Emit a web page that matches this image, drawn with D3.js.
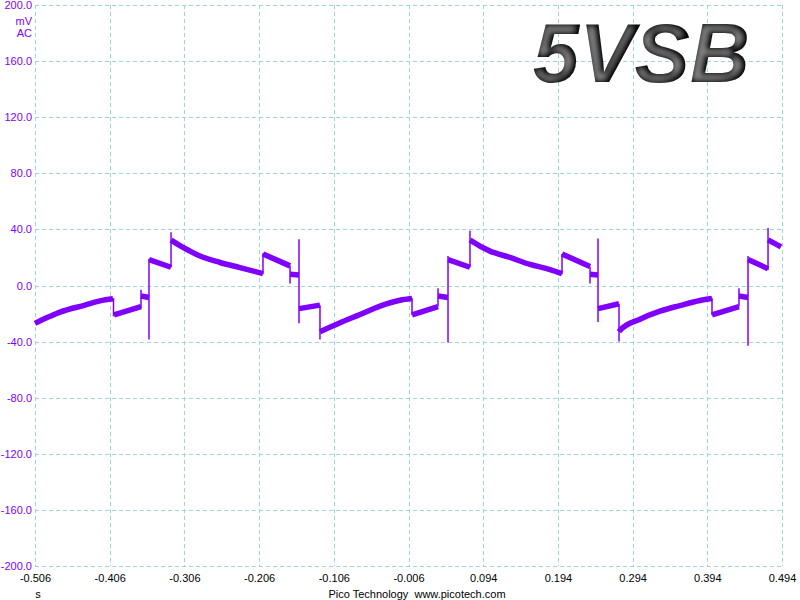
<!DOCTYPE html>
<html>
<head>
<meta charset="utf-8">
<script src="https://cdn.jsdelivr.net/npm/d3@7"></script>
<style>
  html, body { margin: 0; padding: 0; background: #fff; }
  svg { display: block; }
</style>
</head>
<body>
<svg id="chart" width="800" height="600"></svg>
<script>
// ---- data ----
const xTicks = [-0.506, -0.406, -0.306, -0.206, -0.106, -0.006, 0.094, 0.194, 0.294, 0.394, 0.494];
const xTickLabels = ["-0.506", "-0.406", "-0.306", "-0.206", "-0.106", "-0.006", "0.094", "0.194", "0.294", "0.394", "0.494"];
const yTicks = [200, 160, 120, 80, 40, 0, -40, -80, -120, -160, -200];
const yTickLabels = ["200.0", "160.0", "120.0", "80.0", "40.0", "0.0", "-40.0", "-80.0", "-120.0", "-160.0", "-200.0"];
const titleText = "5VSB";
const unitLabels = ["mV", "AC"];
const xUnit = "s";
const footer = "Pico Technology  www.picotech.com";

// noisy trace segments: [time (s), mV]
const traceSegments = [
  [[-0.506,-27],[-0.4859,-22],[-0.4725,-19],[-0.4391,-14],[-0.4190,-11],[-0.4016,-9.5]],
  [[-0.4002,-21],[-0.3641,-15]],
  [[-0.3641,-7.5],[-0.3534,-8.5]],
  [[-0.3534,18.5],[-0.3239,13]],
  [[-0.3239,32.5],[-0.3213,31.5],[-0.2985,24.5],[-0.2851,21],[-0.2583,16.4],[-0.2316,12.8],[-0.2008,8.5]],
  [[-0.2008,22.5],[-0.1646,14]],
  [[-0.1646,8],[-0.1526,7.5]],
  [[-0.1526,-16.5],[-0.1245,-14]],
  [[-0.1245,-33],[-0.0977,-26.6],[-0.0709,-20.7],[-0.0442,-14.7],[-0.0174,-10.5],[-0.0013,-9.3]],
  [[-0.0013,-21],[0.0335,-15]],
  [[0.0335,-7.5],[0.0469,-8.5]],
  [[0.0469,18.5],[0.0763,13]],
  [[0.0763,32.5],[0.0790,31.5],[0.1031,24.5],[0.1299,20],[0.1567,15],[0.1834,11.4],[0.1995,8.5]],
  [[0.1995,22.5],[0.2370,13.5]],
  [[0.2370,8],[0.2477,7.5]],
  [[0.2477,-16.5],[0.2758,-13]],
  [[0.2758,-33],[0.2771,-32],[0.3039,-24],[0.3307,-18.3],[0.3575,-14.3],[0.3842,-10.7],[0.4003,-9.3]],
  [[0.4003,-21],[0.4364,-15]],
  [[0.4364,-7.5],[0.4485,-8.5]],
  [[0.4485,18.5],[0.4753,12]],
  [[0.4753,32.5],[0.4927,27.5]]
];
// transition spikes: [time (s), low mV, high mV]
const spikes = [
  [-0.4009,-22,-9], [-0.3641,-16,-3], [-0.3534,-38.5,19], [-0.3239,13,38],
  [-0.2008,8,23], [-0.1646,1.5,14], [-0.1526,-27,33], [-0.1245,-38.5,-14],
  [-0.0013,-21,-9], [0.0335,-15,-2], [0.0469,-40.6,21], [0.0763,13,39],
  [0.1995,8,22.5], [0.2370,1.5,13.5], [0.2477,-26,33.5], [0.2758,-40,-13],
  [0.4003,-21,-9], [0.4364,-15,-2], [0.4485,-43,21], [0.4753,11,41]
];

// ---- layout ----
const svg = d3.select("#chart");
const pLeft = 35, pRight = 782, pTop = 5, pBottom = 566;
const x = d3.scaleLinear().domain([-0.506, 0.494]).range([pLeft, pRight]);
const y = d3.scaleLinear().domain([-200, 200]).range([pBottom, pTop]);
const gridColor = "#9dd5d9";
const purple = "#8000ff";
const font = "'Liberation Sans', Arial, sans-serif";

// grid
const grid = svg.append("g").attr("stroke", gridColor).attr("stroke-width", 1).attr("stroke-dasharray", "4,3");
grid.selectAll("line.v").data(xTicks).join("line").attr("class", "v")
  .attr("x1", d => Math.round(x(d)) + 0.5).attr("x2", d => Math.round(x(d)) + 0.5)
  .attr("y1", pTop).attr("y2", pBottom);
grid.selectAll("line.h").data(yTicks).join("line").attr("class", "h")
  .attr("y1", d => Math.round(y(d)) + 0.5).attr("y2", d => Math.round(y(d)) + 0.5)
  .attr("x1", pLeft).attr("x2", pRight);

// axes (labels only)
const yAxis = d3.axisLeft(y).tickValues(yTicks).tickSize(0).tickPadding(3)
  .tickFormat((d, i) => yTickLabels[i]);
const yg = svg.append("g").attr("transform", `translate(${pLeft},0)`).call(yAxis);
yg.select(".domain").remove();
yg.selectAll("text").attr("fill", purple).attr("font-family", font).attr("font-size", 11);

const xAxis = d3.axisBottom(x).tickValues(xTicks).tickSize(0).tickPadding(8)
  .tickFormat((d, i) => xTickLabels[i]);
const xg = svg.append("g").attr("transform", `translate(0,${pBottom})`).call(xAxis);
xg.select(".domain").remove();
xg.selectAll("text").attr("fill", "#000").attr("font-family", font).attr("font-size", 11);

// unit labels
svg.selectAll("text.unit").data(unitLabels).join("text")
  .attr("class", "unit")
  .attr("x", pLeft - 3).attr("y", (d, i) => 25 + i * 12)
  .attr("text-anchor", "end").attr("fill", purple)
  .attr("font-family", font).attr("font-size", 11).text(d => d);
svg.append("text").attr("x", 38).attr("y", 598).attr("text-anchor", "middle")
  .attr("font-family", font).attr("font-size", 11).attr("fill", "#000").text(xUnit);
svg.append("text").attr("x", 417).attr("y", 598).attr("text-anchor", "middle")
  .attr("font-family", font).attr("font-size", 11).attr("fill", "#000")
  .style("white-space", "pre").text(footer);

// trace
const line = d3.line().x(d => x(d[0])).y(d => y(d[1])).curve(d3.curveMonotoneX);
const tg = svg.append("g");
tg.selectAll("line.spike").data(spikes).join("line").attr("class", "spike")
  .attr("x1", d => x(d[0])).attr("x2", d => x(d[0]))
  .attr("y1", d => y(d[1])).attr("y2", d => y(d[2]))
  .attr("stroke", purple).attr("stroke-width", 1.5);
tg.selectAll("path.seg").data(traceSegments).join("path").attr("class", "seg")
  .attr("d", line).attr("fill", "none")
  .attr("stroke", purple).attr("stroke-width", 5.5).attr("stroke-linecap", "butt");

// title with metallic look
const defs = svg.append("defs");
const f = defs.append("filter").attr("id", "metal").attr("x", "-10%").attr("y", "-10%").attr("width", "120%").attr("height", "120%");
f.append("feMorphology").attr("in", "SourceAlpha").attr("operator", "erode").attr("radius", 3).attr("result", "er");
f.append("feGaussianBlur").attr("in", "er").attr("stdDeviation", 2.5).attr("result", "bl");
f.append("feOffset").attr("in", "bl").attr("dx", -2).attr("dy", 0).attr("result", "off");
f.append("feFlood").attr("flood-color", "#8c8c8c").attr("result", "fl");
f.append("feComposite").attr("in", "fl").attr("in2", "off").attr("operator", "in").attr("result", "hl");
f.append("feComposite").attr("in", "hl").attr("in2", "SourceAlpha").attr("operator", "in").attr("result", "hl2");
const m = f.append("feMerge");
m.append("feMergeNode").attr("in", "SourceGraphic");
m.append("feMergeNode").attr("in", "hl2");

svg.append("text").attr("x", 533).attr("y", 82)
  .attr("font-family", font).attr("font-size", 83).attr("font-weight", "bold").attr("font-style", "italic")
  .attr("fill", "#080808").attr("filter", "url(#metal)").text(titleText);
</script>
</body>
</html>
